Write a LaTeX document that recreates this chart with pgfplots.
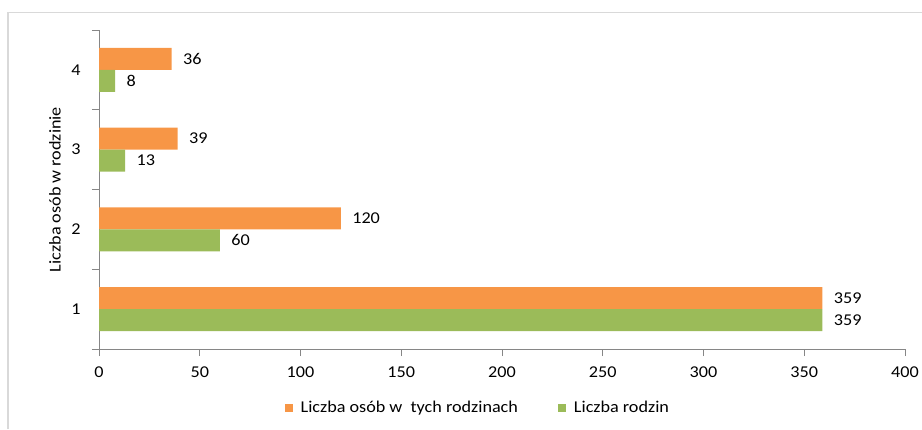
\documentclass[border=0pt]{standalone}
\usepackage{fontspec}
\setmainfont[FakeStretch=1.1]{Carlito}
\usepackage{pgfplots}
\pgfplotsset{compat=1.18}
\definecolor{barorange}{RGB}{247,150,70}
\definecolor{bargreen}{RGB}{155,187,89}
\definecolor{axisgray}{RGB}{134,134,134}
\definecolor{framegray}{RGB}{217,217,217}

\begin{document}
\begin{tikzpicture}[font=\fontsize{16.5}{18}\selectfont]
\path[use as bounding box] (0pt,0pt) rectangle (922pt,429pt);
% light frame of the chart area (only top and left are visible)
\draw[framegray, line width=1.2pt] (8pt,0pt) -- (8pt,416.5pt) -- (922pt,416.5pt);
\begin{axis}[
    at={(99pt,80pt)}, anchor=south west, scale only axis,
    width=806pt, height=319pt,
    xbar, bar width=22pt,
    xmin=0, xmax=400, ymin=0.5, ymax=4.5,
    xtick={0,50,...,400},
    ytick={0.5,1.5,2.5,3.5,4.5},
    yticklabels={},
    major tick length=7pt,
    tick align=outside,
    extra y ticks={1,2,3,4},
    extra y tick labels={1,2,3,4},
    extra y tick style={major tick length=0pt},
    /pgf/number format/assume math mode=true,
    axis x line*=bottom, axis y line*=left,
    axis line style={-, axisgray, line width=1pt},
    tick style={axisgray, line width=1pt},
    xticklabel style={yshift=-7pt},
    yticklabel style={xshift=-15pt},
    ylabel={Liczba osób w rodzinie},
    every axis y label/.style={at={(axis description cs:0,0.5)}, xshift=-44pt, rotate=90, anchor=center},
    nodes near coords,
    every node near coord/.append style={anchor=west, xshift=8pt, black},
    legend columns=2,
    legend style={draw=none, at={(0.47,-0.185)}, anchor=center,
        /tikz/every odd column/.append style={column sep=6pt},
        /tikz/every even column/.append style={column sep=38pt}},
    legend image code/.code={\fill[#1] (0pt,-4pt) rectangle (8pt,4pt);},
]
\addplot[fill=barorange, draw=none, bar shift=11pt] coordinates {
    (359,1) (120,2) (39,3) (36,4)
};
\addplot[fill=bargreen, draw=none, bar shift=-11pt] coordinates {
    (359,1) (60,2) (13,3) (8,4)
};
\legend{Liczba osób w\ \ tych rodzinach, Liczba rodzin}
\end{axis}
\end{tikzpicture}
\end{document}
